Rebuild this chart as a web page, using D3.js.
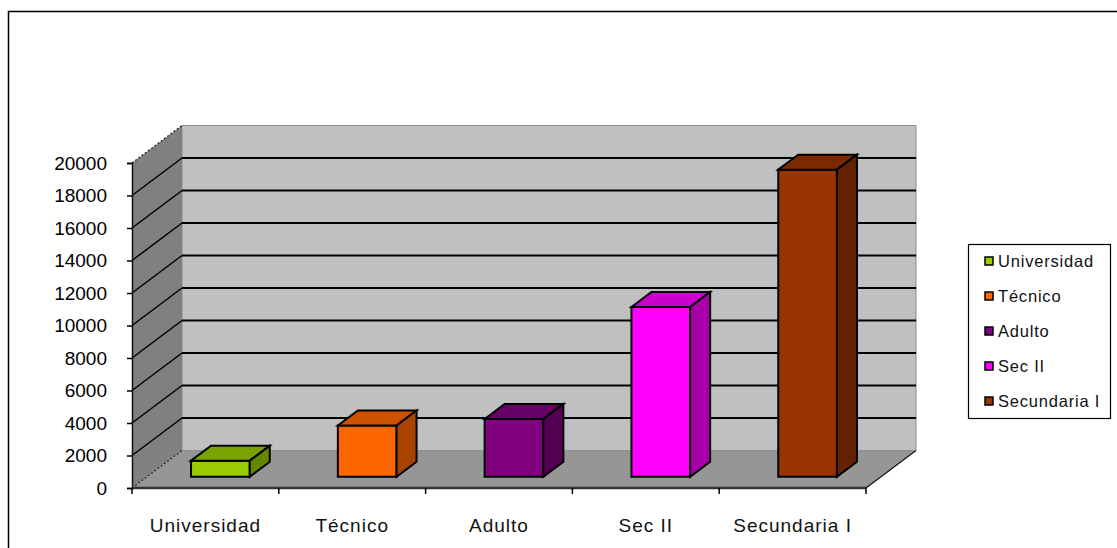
<!DOCTYPE html>
<html>
<head>
<meta charset="utf-8">
<script src="https://cdn.jsdelivr.net/npm/d3@7"></script>
<style>
  body { margin: 0; background: #fff; }
  svg text { font-family: "Liberation Sans", Arial, sans-serif; fill: #000; }
</style>
</head>
<body>
<div id="chart"></div>
<script>

// data

var categories = ["Universidad", "Técnico", "Adulto", "Sec II", "Secundaria I"];
var values = [990, 3150, 3550, 10450, 18900];
var colors = ["#99cc00", "#ff6600", "#800080", "#ff00ff", "#993300"];
var yTicks = [0, 2000, 4000, 6000, 8000, 10000, 12000, 14000, 16000, 18000, 20000];

// layout

var width = 1117,
    height = 548,
    plotLeft = 132,
    plotRight = 866,
    depthX = 50,
    depthY = -37.5,
    barFront = 0.3,
    barBack = 0.7;

var svg = d3.select("#chart").append("svg")
  .attr("width", width)
  .attr("height", height);

// outer frame (only top and left edges show)

svg.append("path")
  .attr("d", "M8.5,548V11.5H1117")
  .attr("fill", "none")
  .attr("stroke", "#000")
  .attr("stroke-width", 1.5);

// scales

var x = d3.scaleBand()
  .domain(categories)
  .range([plotLeft, plotRight])
  .paddingInner(0.6)
  .paddingOuter(0.3);

var xEdges = d3.scaleBand()
  .domain(categories)
  .range([plotLeft, plotRight])
  .padding(0);

var y = d3.scaleLinear()
  .domain([0, 20000])
  .range([488, 163]);

// project a front-plane point back by a depth fraction

function pt(px, py, f) {
  return [px + depthX * f, py + depthY * f];
}

function poly(points) {
  return "M" + points.map(function(p) { return p[0] + "," + p[1]; }).join("L") + "Z";
}

var y0 = y(0), yMax = y(20000);

// walls and floor

svg.append("path")
  .attr("d", poly([pt(plotLeft, yMax, 1), pt(plotRight, yMax, 1), pt(plotRight, y0, 1), pt(plotLeft, y0, 1)]))
  .attr("fill", "#c0c0c0")
  .attr("stroke", "#8c8c8c")
  .attr("stroke-width", 1);

svg.append("path")
  .attr("d", poly([pt(plotLeft, yMax, 0), pt(plotLeft, yMax, 1), pt(plotLeft, y0, 1), pt(plotLeft, y0, 0)]))
  .attr("fill", "#808080");

svg.append("path")
  .attr("d", poly([pt(plotLeft, y0, 0), pt(plotLeft, y0, 1), pt(plotRight, y0, 1), pt(plotRight, y0, 0)]))
  .attr("fill", "#969696");

// gridlines on back wall and side wall

var inner = yTicks.filter(function(d) { return d > 0 && d < 20000; });

svg.selectAll(".grid-back")
  .data(inner)
  .enter()
    .append("line")
      .attr("class", "grid-back")
      .attr("x1", plotLeft + depthX)
      .attr("x2", plotRight + depthX)
      .attr("y1", function(d) { return y(d) + depthY; })
      .attr("y2", function(d) { return y(d) + depthY; })
      .attr("stroke", "#000")
      .attr("stroke-width", 2);

svg.selectAll(".grid-side")
  .data(inner)
  .enter()
    .append("line")
      .attr("class", "grid-side")
      .attr("x1", plotLeft)
      .attr("x2", plotLeft + depthX)
      .attr("y1", function(d) { return y(d); })
      .attr("y2", function(d) { return y(d) + depthY; })
      .attr("stroke", "#000")
      .attr("stroke-width", 1.5);

// dashed edges of the side wall

[20000, 0].forEach(function(v) {
  svg.append("line")
    .attr("x1", plotLeft)
    .attr("x2", plotLeft + depthX)
    .attr("y1", y(v))
    .attr("y2", y(v) + depthY)
    .attr("stroke", "#222")
    .attr("stroke-width", 1.2)
    .attr("stroke-dasharray", "2,2");
});

// floor right edge and front edge

svg.append("line")
  .attr("x1", plotRight).attr("y1", y0)
  .attr("x2", plotRight + depthX).attr("y2", y0 + depthY)
  .attr("stroke", "#111")
  .attr("stroke-width", 1.2);

svg.append("line")
  .attr("x1", plotLeft).attr("y1", y0)
  .attr("x2", plotRight).attr("y2", y0)
  .attr("stroke", "#333")
  .attr("stroke-width", 2.5);

// y axis

var yAxis = svg.append("g")
  .attr("transform", "translate(" + plotLeft + ",0)")
  .call(d3.axisLeft(y).tickValues(yTicks).tickSize(5).tickPadding(20).tickFormat(d3.format("d")));

yAxis.select(".domain").attr("stroke", "#111").attr("stroke-width", 1.5);
yAxis.selectAll(".tick line").attr("stroke", "#000").attr("stroke-width", 1.5);
yAxis.selectAll(".tick text")
  .style("font-size", "19px")
  .style("font-family", "'Liberation Sans', Arial, sans-serif")
  .attr("fill", "#111");

// x axis ticks at band edges

var edges = categories.map(function(c) { return xEdges(c); }).concat([plotRight]);

svg.selectAll(".xtick")
  .data(edges)
  .enter()
    .append("line")
      .attr("class", "xtick")
      .attr("x1", function(d) { return d; })
      .attr("x2", function(d) { return d; })
      .attr("y1", y0)
      .attr("y2", y0 + 6)
      .attr("stroke", "#000")
      .attr("stroke-width", 1.5);

svg.selectAll(".xlabel")
  .data(categories)
  .enter()
    .append("text")
      .attr("class", "xlabel")
      .attr("x", function(d) { return xEdges(d) + xEdges.bandwidth() / 2; })
      .attr("y", 532)
      .attr("text-anchor", "middle")
      .style("font-size", "19px")
      .style("letter-spacing", "1px")
      .style("fill", "#111")
      .text(function(d) { return d; });

// bars

function shade(c, k) {
  var r = d3.rgb(c);
  return d3.rgb(r.r * k, r.g * k, r.b * k).toString();
}

var bars = svg.selectAll(".bar")
  .data(categories.map(function(c, i) { return { name: c, value: values[i], color: colors[i] }; }))
  .enter()
    .append("g")
      .attr("class", "bar");

bars.each(function(d) {
  var g = d3.select(this),
      xl = x(d.name),
      xr = x(d.name) + x.bandwidth(),
      yt = y(d.value);

  // front face
  g.append("path")
    .attr("d", poly([pt(xl, yt, barFront), pt(xr, yt, barFront), pt(xr, y0, barFront), pt(xl, y0, barFront)]))
    .attr("fill", d.color);

  // top face
  g.append("path")
    .attr("d", poly([pt(xl, yt, barFront), pt(xl, yt, barBack), pt(xr, yt, barBack), pt(xr, yt, barFront)]))
    .attr("fill", shade(d.color, 0.8));

  // side face
  g.append("path")
    .attr("d", poly([pt(xr, yt, barFront), pt(xr, yt, barBack), pt(xr, y0, barBack), pt(xr, y0, barFront)]))
    .attr("fill", shade(d.color, 0.66));

  g.selectAll("path")
    .attr("stroke", "#000")
    .attr("stroke-width", 2)
    .attr("stroke-linejoin", "miter");
});

// legend

var legend = svg.append("g")
  .attr("transform", "translate(968,244)");

legend.append("rect")
  .attr("x", 0.5)
  .attr("y", 0.5)
  .attr("width", 142)
  .attr("height", 174)
  .attr("fill", "#fff")
  .attr("stroke", "#000")
  .attr("stroke-width", 1.2);

var item = legend.selectAll(".item")
  .data(categories)
  .enter()
    .append("g")
      .attr("class", "item")
      .attr("transform", function(d, i) { return "translate(0," + (17 + i * 35) + ")"; });

item.append("rect")
  .attr("x", 17)
  .attr("y", -4)
  .attr("width", 8)
  .attr("height", 8)
  .attr("fill", function(d, i) { return colors[i]; })
  .attr("stroke", "#000")
  .attr("stroke-width", 1.5);

item.append("text")
  .attr("x", 30)
  .attr("y", 6)
  .style("font-size", "16.5px")
  .style("letter-spacing", "0.8px")
  .style("fill", "#111")
  .text(function(d) { return d; });

</script>
</body>
</html>
